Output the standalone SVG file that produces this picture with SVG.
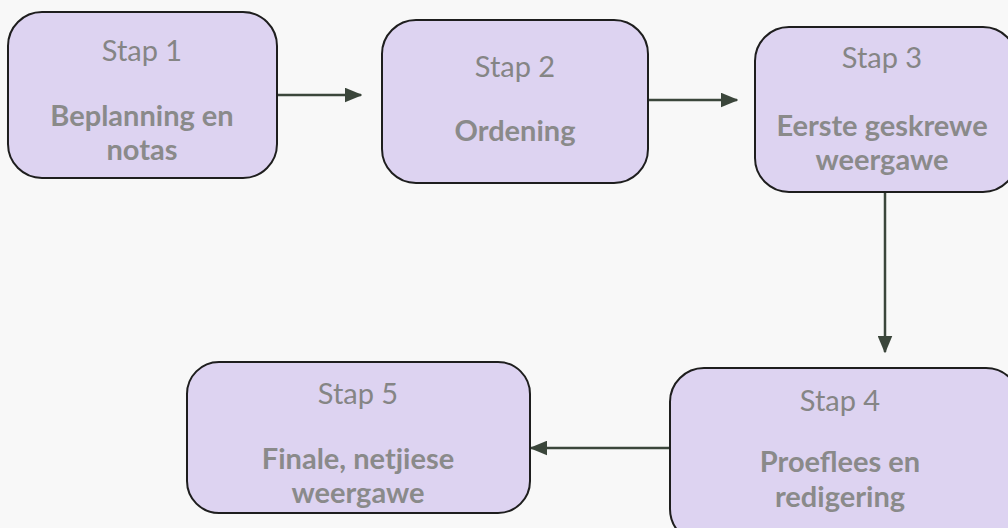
<svg xmlns="http://www.w3.org/2000/svg" width="1008" height="528" viewBox="0 0 1008 528">
<defs>
<style>
.box{fill:#ddd3f1;stroke:#1e1e1e;stroke-width:2}
.t{font-family:Lato,"Noto Sans",sans-serif;font-size:29px;fill:#858585;text-anchor:middle}
.b{font-weight:bold;fill:#8a8a8a}
.c{stroke:#3b463b;stroke-width:2.5;fill:none;marker-end:url(#ah)}
</style>
<marker id="ah" viewBox="0 0 12 10" refX="11" refY="5" markerWidth="7" markerHeight="6" markerUnits="strokeWidth" orient="auto">
<path d="M0,0 L12,5 L0,10 z" fill="#3b463b"/>
</marker>
</defs>
<rect width="1008" height="528" fill="#f8f8f8"/>
<g id="connectors">
<path class="c" d="M277,95 H361"/>
<path class="c" d="M648,100 H737"/>
<path class="c" d="M885,192 V352"/>
<path class="c" d="M670,448 H531"/>
</g>
<g id="stap1">
<rect class="box" x="8" y="12" width="269" height="166" rx="34"/>
<text class="t" x="142" y="61">Stap 1</text>
<text class="t b" x="142" y="126">Beplanning en</text>
<text class="t b" x="142" y="160">notas</text>
</g>
<g id="stap2">
<rect class="box" x="382" y="20" width="266" height="163" rx="34"/>
<text class="t" x="515" y="77">Stap 2</text>
<text class="t b" x="515" y="141">Ordening</text>
</g>
<g id="stap3">
<rect class="box" x="755" y="27" width="262" height="165" rx="34"/>
<text class="t" x="882" y="68">Stap 3</text>
<text class="t b" x="882" y="136">Eerste geskrewe</text>
<text class="t b" x="882" y="170">weergawe</text>
</g>
<g id="stap4">
<rect class="box" x="670" y="368" width="350" height="175" rx="34"/>
<text class="t" x="840" y="411">Stap 4</text>
<text class="t b" x="840" y="472">Proeflees en</text>
<text class="t b" x="840" y="507">redigering</text>
</g>
<g id="stap5">
<rect class="box" x="187" y="362" width="343" height="151" rx="32"/>
<text class="t" x="358" y="404">Stap 5</text>
<text class="t b" x="358" y="469">Finale, netjiese</text>
<text class="t b" x="358" y="503">weergawe</text>
</g>
</svg>
